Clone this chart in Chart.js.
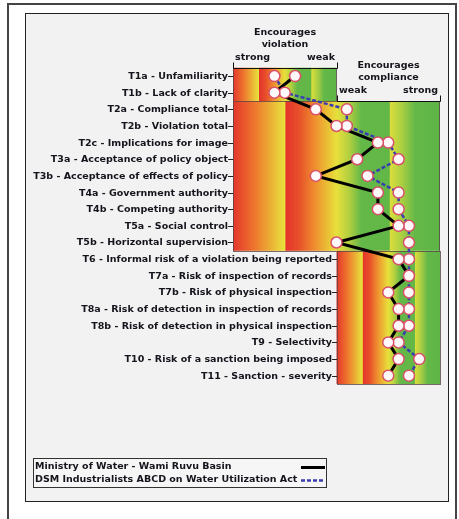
<!DOCTYPE html>
<html>
<head>
<meta charset="utf-8">
<script src="https://cdn.jsdelivr.net/npm/chart.js@4.4.1/dist/chart.umd.min.js"></script>
<style>
  html, body { margin: 0; padding: 0; background: #fff; }
</style>
</head>
<body>
<canvas id="tableChart" width="459" height="519"></canvas>
<script>
// row labels (top to bottom)
const rowLabels = [
  'T1a - Unfamiliarity',
  'T1b - Lack of clarity',
  'T2a - Compliance total',
  'T2b - Violation total',
  'T2c - Implications for image',
  'T3a - Acceptance of policy object',
  'T3b - Acceptance of effects of policy',
  'T4a - Government authority',
  'T4b - Competing authority',
  'T5a - Social control',
  'T5b - Horizontal supervision',
  'T6 - Informal risk of a violation being reported',
  'T7a - Risk of inspection of records',
  'T7b - Risk of physical inspection',
  'T8a - Risk of detection in inspection of records',
  'T8b - Risk of detection in physical inspection',
  'T9 - Selectivity',
  'T10 - Risk of a sanction being imposed',
  'T11 - Sanction - severity'
];

// scores: -10 = strong violation ... 0 ... +10 = strong compliance
const ministryScores = [-4, -6, -2, 0, 4, 2, -2, 4, 4, 6, 0, 6, 7, 5, 6, 6, 5, 6, 5];
const dsmScores = [-6, -5, 1, 1, 5, 6, 3, 6, 6, 7, 7, 7, 7, 7, 7, 7, 6, 8, 7];

const seriesNames = ['Ministry of Water - Wami Ruvu Basin', 'DSM Industrialists ABCD on Water Utilization Act'];

// blocks of rows and the part of the scale they use
const sectionFirstRow = [0, 2, 11];
const sectionLastRow = [1, 10, 18];
const sectionFrom = [-10, -10, 0];
const sectionTo = [0, 10, 10];

// header axes above the blocks
const headerTitles = [['Encourages', 'violation'], ['Encourages', 'compliance']];
const headerEnds = [['strong', 'weak'], ['weak', 'strong']];
const headerFrom = [-10, 0];
const headerTo = [0, 10];
const headerSection = [0, 1];

const FONT = 'bold 9.5px "DejaVu Sans", Verdana, sans-serif';
const INK = '#14141c';

function sectionGradient(c, x0, x1) {
  const g = c.createLinearGradient(x0, 0, x1, 0);
  g.addColorStop(0, '#e4352b');
  g.addColorStop(0.11, '#ee7a2e');
  g.addColorStop(0.25, '#e8e33c');
  g.addColorStop(0.256, '#e4352b');
  g.addColorStop(0.32, '#e8502a');
  g.addColorStop(0.40, '#ef932f');
  g.addColorStop(0.50, '#e7e03b');
  g.addColorStop(0.56, '#b4d040');
  g.addColorStop(0.62, '#63b848');
  g.addColorStop(0.755, '#62b747');
  g.addColorStop(0.76, '#dade3c');
  g.addColorStop(0.82, '#a6cd42');
  g.addColorStop(0.88, '#64b848');
  g.addColorStop(1, '#5db546');
  return g;
}

const framePlugin = {
  id: 'frame',
  beforeDraw(chart) {
    const c = chart.ctx;
    c.save();
    c.fillStyle = '#fff';
    c.fillRect(0, 0, chart.width, chart.height);
    // outer frame
    c.strokeStyle = '#444';
    c.lineWidth = 2;
    c.strokeRect(8, 4, 448, 540);
    // inner panel
    c.fillStyle = '#f2f2f2';
    c.fillRect(25, 13, 424, 489);
    c.strokeStyle = '#222';
    c.lineWidth = 1;
    c.strokeRect(25.5, 13.5, 423, 488);
    c.restore();
  },
  beforeDatasetsDraw(chart) {
    const c = chart.ctx;
    const xs = chart.scales.x, ys = chart.scales.y;
    const half = (ys.getPixelForValue(1) - ys.getPixelForValue(0)) / 2;
    c.save();
    for (let s = 0; s < sectionFirstRow.length; s++) {
      const x0 = xs.getPixelForValue(sectionFrom[s]);
      const x1 = xs.getPixelForValue(sectionTo[s]);
      const y0 = ys.getPixelForValue(sectionFirstRow[s]) - half;
      const y1 = ys.getPixelForValue(sectionLastRow[s]) + half;
      c.fillStyle = sectionGradient(c, x0, x1);
      c.fillRect(x0, y0, x1 - x0, y1 - y0);
      c.strokeStyle = 'rgba(90,70,70,0.8)';
      c.lineWidth = 1;
      c.strokeRect(Math.round(x0) + 0.5, Math.round(y0) + 0.5, Math.round(x1 - x0) - 1, Math.round(y1 - y0));
    }
    // row labels and ticks
    c.font = FONT;
    c.fillStyle = INK;
    c.strokeStyle = '#222';
    c.textAlign = 'right';
    c.textBaseline = 'middle';
    for (let s = 0; s < sectionFirstRow.length; s++) {
      const edge = Math.round(xs.getPixelForValue(sectionFrom[s]));
      for (let i = sectionFirstRow[s]; i <= sectionLastRow[s]; i++) {
        const y = Math.round(ys.getPixelForValue(i)) + 0.5;
        c.beginPath();
        c.moveTo(edge - 5, y);
        c.lineTo(edge, y);
        c.stroke();
        c.fillText(rowLabels[i], edge - 5, y);
      }
    }
    // header axes
    for (let h = 0; h < headerTitles.length; h++) {
      const x0 = Math.round(xs.getPixelForValue(headerFrom[h]));
      const x1 = Math.round(xs.getPixelForValue(headerTo[h]));
      const top = Math.round(ys.getPixelForValue(sectionFirstRow[headerSection[h]]) - half) + 0.5;
      c.strokeStyle = '#111';
      c.beginPath();
      c.moveTo(x0 + 0.5, top - 6);
      c.lineTo(x0 + 0.5, top);
      c.lineTo(x1 + 0.5, top);
      c.lineTo(x1 + 0.5, top - 6);
      c.stroke();
      c.textBaseline = 'middle';
      c.textAlign = 'left';
      c.fillText(headerEnds[h][0], x0 + 2, top - 11);
      c.textAlign = 'right';
      c.fillText(headerEnds[h][1], x1 - 2, top - 11);
      c.textAlign = 'center';
      const mid = (x0 + x1) / 2;
      c.fillText(headerTitles[h][1], mid, top - 24);
      c.fillText(headerTitles[h][0], mid, top - 36);
    }
    c.restore();
  },
  afterDraw(chart) {
    // legend box
    const c = chart.ctx;
    c.save();
    c.fillStyle = '#f6f6f6';
    c.fillRect(33, 458, 293, 29);
    c.strokeStyle = '#333';
    c.lineWidth = 1;
    c.strokeRect(33.5, 458.5, 293, 29);
    c.font = FONT;
    c.fillStyle = INK;
    c.textAlign = 'left';
    c.textBaseline = 'middle';
    for (let d = 0; d < 2; d++) {
      const ds = chart.data.datasets[d];
      const y = 467 + d * 13;
      c.fillText(ds.label, 35, y);
      c.strokeStyle = ds.borderColor;
      c.lineWidth = ds.borderWidth;
      c.setLineDash(ds.borderDash || []);
      c.beginPath();
      c.moveTo(301, y + 0.5);
      c.lineTo(325, y + 0.5);
      c.stroke();
    }
    c.restore();
  }
};

const pointStyle = {
  showLine: false,
  pointRadius: 5.5,
  pointBackgroundColor: '#fff8f9',
  pointBorderColor: '#d8506a',
  pointBorderWidth: 1.5,
  order: 0,
  clip: false
};

new Chart(document.getElementById('tableChart'), {
  type: 'line',
  data: {
    labels: rowLabels,
    datasets: [
      { label: seriesNames[0], data: ministryScores, borderColor: '#000', borderWidth: 3, pointRadius: 0, order: 1, clip: false },
      { label: seriesNames[1], data: dsmScores, borderColor: '#3a3eae', borderWidth: 2.5, borderDash: [4, 2], pointRadius: 0, order: 2, clip: false },
      Object.assign({ label: seriesNames[0] + ' points', data: ministryScores }, pointStyle),
      Object.assign({ label: seriesNames[1] + ' points', data: dsmScores }, pointStyle)
    ]
  },
  options: {
    indexAxis: 'y',
    responsive: false,
    animation: false,
    devicePixelRatio: 1,
    layout: { padding: { left: 233, right: 19, top: 67.7, bottom: 135 } },
    elements: { line: { tension: 0 } },
    scales: {
      x: { type: 'linear', min: -10, max: 10, display: false },
      y: { type: 'category', offset: true, display: false }
    },
    plugins: {
      legend: { display: false },
      tooltip: { enabled: false }
    }
  },
  plugins: [framePlugin]
});
</script>
</body>
</html>
